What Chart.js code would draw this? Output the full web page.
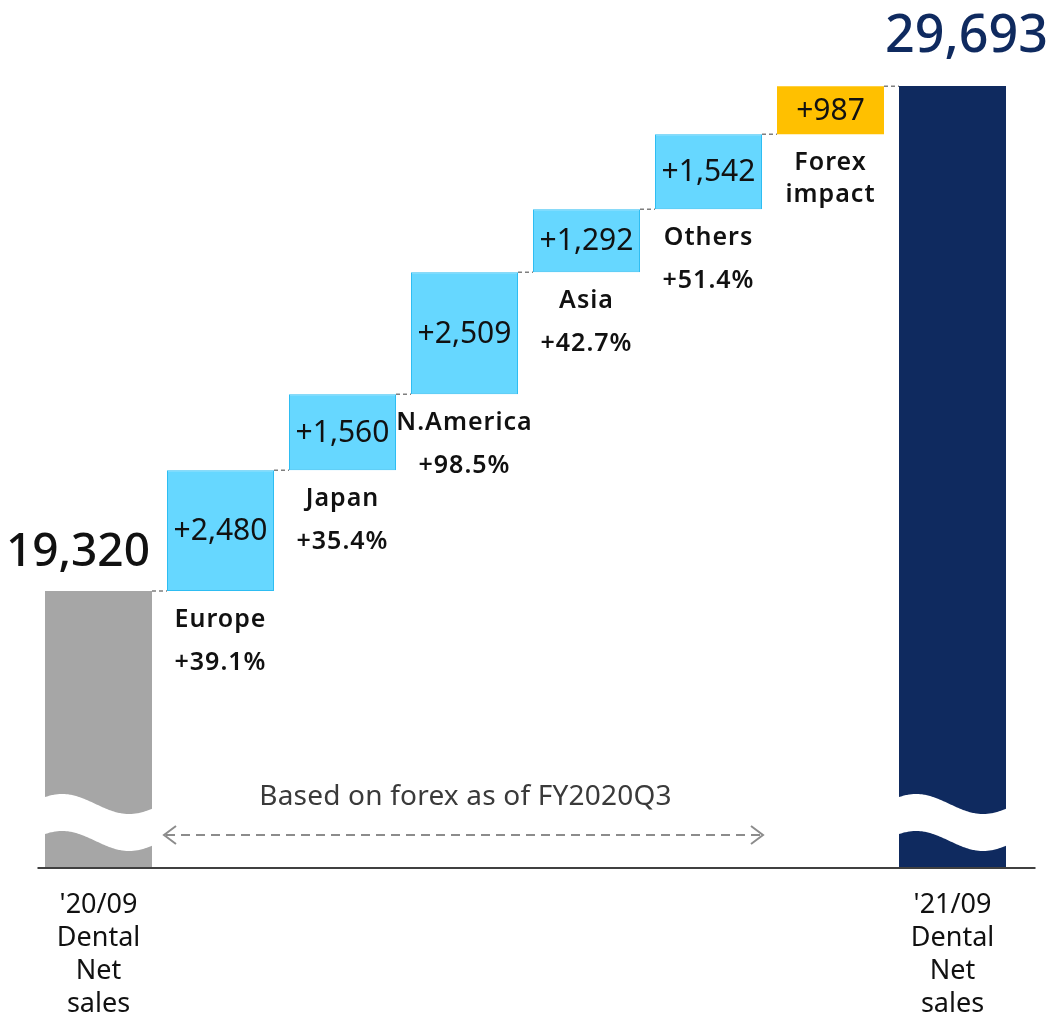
<!DOCTYPE html>
<html>
<head>
<meta charset="utf-8">
<script src="https://cdn.jsdelivr.net/npm/chart.js@4.4.1/dist/chart.umd.min.js"></script>
<style>
  html, body { margin: 0; padding: 0; background: #fff; }
  #wrap { width: 1050px; height: 1017px; }
</style>
</head>
<body>
<div id="wrap"><canvas id="chart"></canvas></div>
<script>
// Chart data
const categories = [
  ["'20/09", 'Dental', 'Net', 'sales'],
  ['Europe'],
  ['Japan'],
  ['N.America'],
  ['Asia'],
  ['Others'],
  ['Forex', 'impact'],
  ["'21/09", 'Dental', 'Net', 'sales']
];
const startValue = 19320;
const endValue = 29693;
const changes = [2480, 1560, 2509, 1292, 1542, 987];
const growthLabels = ['+39.1%', '+35.4%', '+98.5%', '+42.7%', '+51.4%', ''];

// axis is broken, so it does not start at zero
const yMin = 13630;
const yMax = 31255;

// build floating bars from the values
const bars = [[yMin, startValue]];
let running = startValue;
changes.forEach(c => {
  bars.push([running, running + c]);
  running += c;
});
bars.push([yMin, endValue]);

const fillColors = ['#A6A6A6', '#66D7FF', '#66D7FF', '#66D7FF', '#66D7FF', '#66D7FF', '#FFC000', '#0F2A5F'];
const borderColors = ['#A6A6A6', '#2EBDF2', '#2EBDF2', '#2EBDF2', '#2EBDF2', '#2EBDF2', '#FFC000', '#0F2A5F'];

const fmt = n => n.toLocaleString('en-US');
const FONT = "'Noto Sans', 'Open Sans', sans-serif";

const waterfallDecor = {
  id: 'waterfallDecor',
  afterDatasetsDraw(chart) {
    const ctx = chart.ctx;
    const area = chart.chartArea;
    const els = chart.getDatasetMeta(0).data;
    const last = els.length - 1;
    ctx.save();

    // dashed connectors between bars
    ctx.strokeStyle = '#7f7f7f';
    ctx.lineWidth = 1.5;
    ctx.setLineDash([4, 3]);
    for (let i = 0; i < last; i++) {
      const a = els[i], b = els[i + 1];
      ctx.beginPath();
      ctx.moveTo(a.x + a.width / 2, a.y);
      ctx.lineTo(b.x - b.width / 2, a.y);
      ctx.stroke();
    }
    ctx.setLineDash([]);

    // wavy break on the total bars
    [els[0], els[last]].forEach(b => {
      const L = b.x - b.width / 2 - 1;
      const R = b.x + b.width / 2 + 1;
      const W = b.width;
      const topC = area.bottom - 64;
      const botC = area.bottom - 27;
      const wave = (x, c) => c - 10 * Math.cos(2 * Math.PI * (x - (L + 0.17 * W)) / (1.25 * W));
      ctx.beginPath();
      for (let x = L; x <= R; x += 1) {
        if (x === L) ctx.moveTo(x, wave(x, topC)); else ctx.lineTo(x, wave(x, topC));
      }
      for (let x = R; x >= L; x -= 1) ctx.lineTo(x, wave(x, botC));
      ctx.closePath();
      ctx.fillStyle = '#fff';
      ctx.fill();
    });

    // axis line
    ctx.strokeStyle = '#404040';
    ctx.lineWidth = 2;
    ctx.beginPath();
    ctx.moveTo(area.left, area.bottom);
    ctx.lineTo(area.right + 22, area.bottom);
    ctx.stroke();

    // totals
    ctx.textBaseline = 'middle';
    ctx.fillStyle = '#111';
    ctx.font = '500 46px ' + FONT;
    ctx.textAlign = 'right';
    ctx.fillText(fmt(startValue), els[0].x + els[0].width / 2 - 2, els[0].y - 38);
    ctx.fillStyle = '#0F2A5F';
    ctx.font = '500 52px ' + FONT;
    ctx.textAlign = 'left';
    ctx.fillText(fmt(endValue), els[last].x - els[last].width / 2 - 14, els[last].y - 49);

    // change values inside bars, labels under bars
    ctx.textAlign = 'center';
    changes.forEach((c, i) => {
      const b = els[i + 1];
      ctx.fillStyle = '#111';
      ctx.font = '400 30px ' + FONT;
      ctx.fillText('+' + fmt(c), b.x, (b.y + b.base) / 2 + 1);
      ctx.font = '600 25px ' + FONT;
      ctx.letterSpacing = '1px';
      categories[i + 1].forEach((line, k) => {
        ctx.fillText(line, b.x, b.base + 29 + k * 32);
      });
      if (growthLabels[i]) ctx.fillText(growthLabels[i], b.x, b.base + 72);
      ctx.letterSpacing = '0px';
    });

    // category labels under the axis for totals
    ctx.font = '400 27px ' + FONT;
    ctx.fillStyle = '#111';
    [0, last].forEach(i => {
      categories[i].forEach((line, k) => {
        ctx.fillText(line, els[i].x, area.bottom + 37 + k * 33);
      });
    });

    // forex note with double arrow
    const x1 = els[1].x - els[1].width / 2 - 3;
    const x2 = els[5].x + els[5].width / 2 + 1;
    const ay = area.bottom - 33;
    ctx.fillStyle = '#3a3a3a';
    ctx.font = '400 28px ' + FONT;
    ctx.letterSpacing = '0.2px';
    ctx.fillText('Based on forex as of FY2020Q3', (x1 + x2) / 2 + 2, area.bottom - 71);
    ctx.letterSpacing = '0px';
    ctx.strokeStyle = '#8c8c8c';
    ctx.lineWidth = 2;
    ctx.setLineDash([9, 6]);
    ctx.beginPath();
    ctx.moveTo(x1 + 2, ay);
    ctx.lineTo(x2 - 2, ay);
    ctx.stroke();
    ctx.setLineDash([]);
    ctx.beginPath();
    ctx.moveTo(x1 + 12, ay - 9);
    ctx.lineTo(x1, ay);
    ctx.lineTo(x1 + 12, ay + 9);
    ctx.moveTo(x2 - 12, ay - 9);
    ctx.lineTo(x2, ay);
    ctx.lineTo(x2 - 12, ay + 9);
    ctx.stroke();

    ctx.restore();
  }
};

new Chart(document.getElementById('chart'), {
  type: 'bar',
  data: {
    labels: categories.map(c => c.join(' ')),
    datasets: [{
      data: bars,
      backgroundColor: fillColors,
      borderColor: borderColors,
      borderWidth: [0, 1, 1, 1, 1, 1, 0, 0],
      borderSkipped: false,
      barPercentage: 0.877,
      categoryPercentage: 1
    }]
  },
  options: {
    responsive: true,
    maintainAspectRatio: false,
    animation: false,
    layout: { padding: { left: 37.5, right: 36.5, top: 10, bottom: 149 } },
    plugins: {
      legend: { display: false },
      tooltip: { enabled: false }
    },
    scales: {
      x: { display: false },
      y: { display: false, min: yMin, max: yMax }
    }
  },
  plugins: [waterfallDecor]
});
</script>
</body>
</html>
